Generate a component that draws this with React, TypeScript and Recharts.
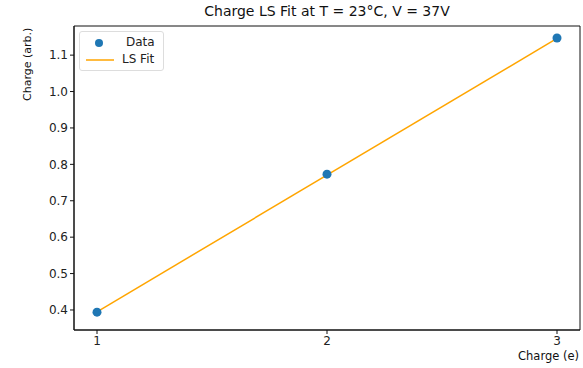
import {
  ComposedChart,
  Scatter,
  Line,
  XAxis,
  YAxis,
  ReferenceArea,
} from 'recharts';

// measured charge per electron count
const electrons = [1, 2, 3];
const charge = [0.394, 0.773, 1.147];

// least-squares line evaluated at the ends of the range
const fitX = [1, 3];
const fitY = [0.395, 1.146];

const xTicks = [1, 2, 3];
const yTicks = [0.4, 0.5, 0.6, 0.7, 0.8, 0.9, 1.0, 1.1];

const dataPoints = electrons.map((x, i) => ({ x, y: charge[i] }));
const fitPoints = fitX.map((x, i) => ({ x, y: fitY[i] }));

const FONT = '"DejaVu Sans", sans-serif';
const X_DOMAIN: [number, number] = [0.9, 3.1];
const Y_DOMAIN: [number, number] = [0.345, 1.18];

function LegendBox() {
  return (
    <div
      style={{
        position: 'absolute',
        left: 79,
        top: 31,
        fontSize: 12,
        color: '#222',
        border: '1px solid #ddd',
        borderRadius: 3,
        background: 'rgba(255,255,255,0.8)',
        padding: '2px 8px 2px 4px',
        lineHeight: '17px',
      }}
    >
      <div style={{ display: 'flex', alignItems: 'center' }}>
        <svg width={30} height={12}>
          <circle cx={15} cy={6} r={4} fill="#1f77b4" />
        </svg>
        <span style={{ marginLeft: 12 }}>Data</span>
      </div>
      <div style={{ display: 'flex', alignItems: 'center' }}>
        <svg width={30} height={12}>
          <line x1={2} y1={6} x2={30} y2={6} stroke="#ffa500" strokeWidth={1.5} />
        </svg>
        <span style={{ marginLeft: 8 }}>LS Fit</span>
      </div>
    </div>
  );
}

export default function App() {
  return (
    <div
      style={{
        position: 'absolute',
        left: 0,
        top: 0,
        width: 583,
        height: 368,
        background: '#fff',
        fontFamily: FONT,
      }}
    >
      <ComposedChart
        width={583}
        height={368}
        margin={{ top: 26, right: 3, bottom: 0, left: 0 }}
      >
        <XAxis
          dataKey="x"
          type="number"
          domain={X_DOMAIN}
          ticks={xTicks}
          allowDataOverflow
          tickSize={4}
          height={38}
          stroke="#111"
          tick={{ fill: '#222', fontSize: 12, fontFamily: FONT }}
        />
        <YAxis
          dataKey="y"
          type="number"
          domain={Y_DOMAIN}
          ticks={yTicks}
          allowDataOverflow
          width={74}
          tickSize={4}
          stroke="#111"
          tickFormatter={(v: number) => v.toFixed(1)}
          tick={{ fill: '#222', fontSize: 12, fontFamily: FONT }}
        />
        <ReferenceArea
          x1={X_DOMAIN[0]}
          x2={X_DOMAIN[1]}
          y1={Y_DOMAIN[0]}
          y2={Y_DOMAIN[1]}
          fill="none"
          stroke="#111"
          strokeWidth={1}
          fillOpacity={0}
        />
        <Scatter
          name="Data"
          data={dataPoints}
          fill="#1f77b4"
          shape={(p: any) => <circle cx={p.cx} cy={p.cy} r={4.5} fill="#1f77b4" />}
          isAnimationActive={false}
        />
        <Line
          name="LS Fit"
          data={fitPoints}
          dataKey="y"
          type="linear"
          stroke="#ffa500"
          strokeWidth={1.5}
          dot={false}
          activeDot={false}
          isAnimationActive={false}
        />
      </ComposedChart>

      <div
        style={{
          position: 'absolute',
          left: 74,
          width: 506,
          top: 3,
          textAlign: 'center',
          fontSize: 14,
          color: '#111',
        }}
      >
        Charge LS Fit at T = 23°C, V = 37V
      </div>
      <div
        style={{
          position: 'absolute',
          left: 28,
          top: 25,
          fontSize: 11,
          color: '#111',
          whiteSpace: 'nowrap',
          transformOrigin: '0 0',
          transform: 'translate(-7px, 76px) rotate(-90deg)',
        }}
      >
        Charge (arb.)
      </div>
      <div
        style={{
          position: 'absolute',
          right: 4,
          top: 349,
          fontSize: 11.5,
          color: '#111',
        }}
      >
        Charge (e)
      </div>
      <LegendBox />
    </div>
  );
}
